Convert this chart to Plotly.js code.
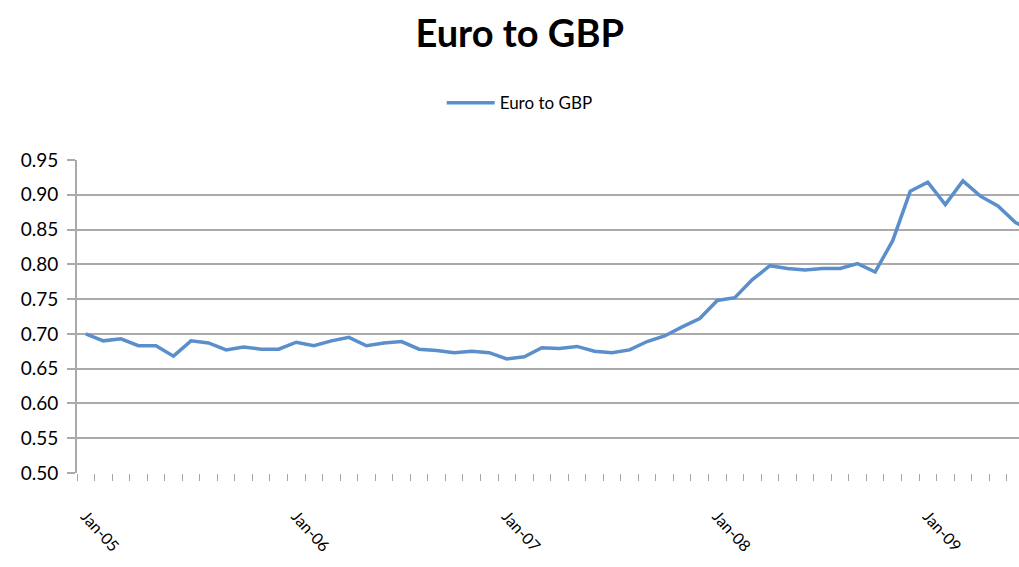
<!DOCTYPE html>
<html>
<head>
<meta charset="utf-8">
<script src="https://cdn.plot.ly/plotly-3.0.1.min.js"></script>
<style>html,body{margin:0;padding:0;background:#fff;}#chart{width:1019px;height:567px;}</style>
</head>
<body>
<div id="chart"></div>
<script>
// Monthly Euro to GBP rate, Jan-05 .. Jul-09
const months = ['Jan','Feb','Mar','Apr','May','Jun','Jul','Aug','Sep','Oct','Nov','Dec'];
const years = ['05','06','07','08','09'];
const rates = [
  0.700, 0.690, 0.693, 0.683, 0.683, 0.668, 0.690, 0.687, 0.677, 0.681, 0.678, 0.678,
  0.688, 0.683, 0.690, 0.695, 0.683, 0.687, 0.689, 0.678, 0.676, 0.673, 0.675, 0.673,
  0.664, 0.667, 0.680, 0.679, 0.682, 0.675, 0.673, 0.677, 0.689, 0.697, 0.710, 0.722,
  0.748, 0.752, 0.778, 0.798, 0.794, 0.792, 0.794, 0.794, 0.801, 0.789, 0.834, 0.905,
  0.918, 0.886, 0.920, 0.898, 0.884, 0.860, 0.848
];
const categories = rates.map((_, i) => months[i % 12] + '-' + years[Math.floor(i / 12)]);
const yearLabels = years.map(y => 'Jan-' + y);

const idx = rates.map((_, i) => i);
const labelIdx = categories.map((c, i) => c.startsWith('Jan') ? i : -1).filter(i => i >= 0);

const trace = {
  x: idx, y: rates, type: 'scatter', mode: 'lines', name: 'Euro to GBP',
  line: {color: '#5a8fcb', width: 3.5},
  text: categories, hoverinfo: 'text+y'
};

const layout = {
  width: 1019, height: 567,
  paper_bgcolor: '#ffffff', plot_bgcolor: '#ffffff',
  font: {family: 'Lato, "Open Sans", sans-serif', color: '#000'},
  margin: {l: 77, r: 0, t: 160, b: 94},
  title: {text: '<b>Euro to GBP</b>', font: {size: 38, family: 'Lato, sans-serif', color: '#000'},
          xref: 'container', x: 0.51, xanchor: 'center', yref: 'container', y: 0.94, yanchor: 'middle'},
  showlegend: true,
  legend: {orientation: 'h', xref: 'container', x: 0.51, xanchor: 'center', yref: 'container', y: 0.818, yanchor: 'middle',
           font: {size: 17}, itemwidth: 48},
  xaxis: {
    range: [-0.5, 53.2], showgrid: false, zeroline: false,
    showline: false,
    tickmode: 'array', tickvals: labelIdx, ticktext: yearLabels,
    ticks: '', tickangle: 48, tickfont: {size: 16}, ticklabelstandoff: 30,
    minor: {tick0: -0.5, dtick: 1, ticks: 'outside', ticklen: 7, tickcolor: '#a6a6a6', tickwidth: 1, showgrid: false}
  },
  yaxis: {
    range: [0.5, 0.95], dtick: 0.05, tick0: 0.5, tickformat: '.2f',
    showgrid: true, gridcolor: '#aaaaaa', gridwidth: 2, zeroline: false,
    showline: true, linecolor: '#aaaaaa', linewidth: 2,
    ticks: 'outside', ticklen: 8, tickcolor: '#aaaaaa', tickwidth: 2,
    tickfont: {size: 19}, ticklabelstandoff: 5
  }
};

Plotly.newPlot('chart', [trace], layout, {displayModeBar: false, staticPlot: true});
</script>
</body>
</html>
